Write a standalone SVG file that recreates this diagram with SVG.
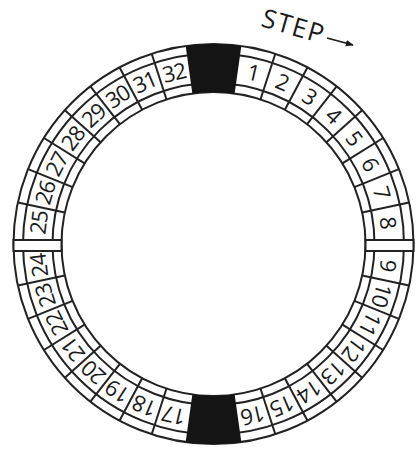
<svg xmlns="http://www.w3.org/2000/svg" width="418" height="449" viewBox="0 0 418 449">
<defs>
<style>
.ln{fill:none;stroke:#222;stroke-width:2}
.num{font-family:"Open Sans","Liberation Sans",sans-serif;font-size:22px;fill:#1a1a1a;text-anchor:middle;letter-spacing:-1px}
.lbl{font-family:"Open Sans","Liberation Sans",sans-serif;font-size:26px;fill:#1a1a1a;letter-spacing:1.5px}
.blk{fill:#141414}
.gap{fill:#fff;stroke:#222;stroke-width:2}
</style>
<line id="div" class="ln" x1="213.5" y1="44" x2="213.5" y2="92"/>
<marker id="ah" viewBox="0 0 10 10" refX="9" refY="5" markerWidth="5" markerHeight="5" orient="auto" markerUnits="strokeWidth">
<path d="M0,1 L10,5 L0,9 Z" fill="#1a1a1a"/>
</marker>
</defs>
<rect width="418" height="449" fill="#fff"/>
<g id="ring">
<circle class="ln" cx="213.5" cy="244" r="200"/>
<circle class="ln" cx="213.5" cy="244" r="190.5"/>
<circle class="ln" cx="213.5" cy="244" r="161"/>
<circle class="ln" cx="213.5" cy="244" r="152"/>
</g>
<g id="dividers">
<use href="#div" transform="rotate(18 213.5 244)"/>
<use href="#div" transform="rotate(28 213.5 244)"/>
<use href="#div" transform="rotate(38 213.5 244)"/>
<use href="#div" transform="rotate(48 213.5 244)"/>
<use href="#div" transform="rotate(58 213.5 244)"/>
<use href="#div" transform="rotate(68 213.5 244)"/>
<use href="#div" transform="rotate(78 213.5 244)"/>
<use href="#div" transform="rotate(102 213.5 244)"/>
<use href="#div" transform="rotate(112 213.5 244)"/>
<use href="#div" transform="rotate(122 213.5 244)"/>
<use href="#div" transform="rotate(132 213.5 244)"/>
<use href="#div" transform="rotate(142 213.5 244)"/>
<use href="#div" transform="rotate(152 213.5 244)"/>
<use href="#div" transform="rotate(162 213.5 244)"/>
<use href="#div" transform="rotate(198 213.5 244)"/>
<use href="#div" transform="rotate(208 213.5 244)"/>
<use href="#div" transform="rotate(218 213.5 244)"/>
<use href="#div" transform="rotate(228 213.5 244)"/>
<use href="#div" transform="rotate(238 213.5 244)"/>
<use href="#div" transform="rotate(248 213.5 244)"/>
<use href="#div" transform="rotate(258 213.5 244)"/>
<use href="#div" transform="rotate(282 213.5 244)"/>
<use href="#div" transform="rotate(292 213.5 244)"/>
<use href="#div" transform="rotate(302 213.5 244)"/>
<use href="#div" transform="rotate(312 213.5 244)"/>
<use href="#div" transform="rotate(322 213.5 244)"/>
<use href="#div" transform="rotate(332 213.5 244)"/>
<use href="#div" transform="rotate(342 213.5 244)"/>
</g>
<g id="blocks">
<path id="block-top" class="blk" d="M185.67,45.95 A200,200 0 0,1 241.33,45.95 L234.65,93.48 A152,152 0 0,0 192.35,93.48 Z"/>
<path id="block-bottom" class="blk" d="M185.67,45.95 A200,200 0 0,1 241.33,45.95 L234.65,93.48 A152,152 0 0,0 192.35,93.48 Z" transform="rotate(180 213.5 244)"/>
</g>
<g id="gaps">
<rect id="gap-left" class="gap" x="13.5" y="240" width="48" height="11"/>
<rect id="gap-right" class="gap" x="365.5" y="240" width="48" height="11"/>
</g>
<g id="cells">
<g id="cell-1"><text class="num" x="213.5" y="76" transform="rotate(13 213.5 244)">1</text></g>
<g id="cell-2"><text class="num" x="213.5" y="76" transform="rotate(23 213.5 244)">2</text></g>
<g id="cell-3"><text class="num" x="213.5" y="76" transform="rotate(33 213.5 244)">3</text></g>
<g id="cell-4"><text class="num" x="213.5" y="76" transform="rotate(43 213.5 244)">4</text></g>
<g id="cell-5"><text class="num" x="213.5" y="76" transform="rotate(53 213.5 244)">5</text></g>
<g id="cell-6"><text class="num" x="213.5" y="76" transform="rotate(63 213.5 244)">6</text></g>
<g id="cell-7"><text class="num" x="213.5" y="76" transform="rotate(73 213.5 244)">7</text></g>
<g id="cell-8"><text class="num" x="213.5" y="76" transform="rotate(83 213.5 244)">8</text></g>
<g id="cell-9"><text class="num" x="213.5" y="76" transform="rotate(97 213.5 244)">9</text></g>
<g id="cell-10"><text class="num" x="213.5" y="76" transform="rotate(107 213.5 244)">10</text></g>
<g id="cell-11"><text class="num" x="213.5" y="76" transform="rotate(117 213.5 244)">11</text></g>
<g id="cell-12"><text class="num" x="213.5" y="76" transform="rotate(127 213.5 244)">12</text></g>
<g id="cell-13"><text class="num" x="213.5" y="76" transform="rotate(137 213.5 244)">13</text></g>
<g id="cell-14"><text class="num" x="213.5" y="76" transform="rotate(147 213.5 244)">14</text></g>
<g id="cell-15"><text class="num" x="213.5" y="76" transform="rotate(157 213.5 244)">15</text></g>
<g id="cell-16"><text class="num" x="213.5" y="76" transform="rotate(167 213.5 244)">16</text></g>
<g id="cell-17"><text class="num" x="213.5" y="76" transform="rotate(193 213.5 244)">17</text></g>
<g id="cell-18"><text class="num" x="213.5" y="76" transform="rotate(203 213.5 244)">18</text></g>
<g id="cell-19"><text class="num" x="213.5" y="76" transform="rotate(213 213.5 244)">19</text></g>
<g id="cell-20"><text class="num" x="213.5" y="76" transform="rotate(223 213.5 244)">20</text></g>
<g id="cell-21"><text class="num" x="213.5" y="76" transform="rotate(233 213.5 244)">21</text></g>
<g id="cell-22"><text class="num" x="213.5" y="76" transform="rotate(243 213.5 244)">22</text></g>
<g id="cell-23"><text class="num" x="213.5" y="76" transform="rotate(253 213.5 244)">23</text></g>
<g id="cell-24"><text class="num" x="213.5" y="76" transform="rotate(263 213.5 244)">24</text></g>
<g id="cell-25"><text class="num" x="213.5" y="76" transform="rotate(277 213.5 244)">25</text></g>
<g id="cell-26"><text class="num" x="213.5" y="76" transform="rotate(287 213.5 244)">26</text></g>
<g id="cell-27"><text class="num" x="213.5" y="76" transform="rotate(297 213.5 244)">27</text></g>
<g id="cell-28"><text class="num" x="213.5" y="76" transform="rotate(307 213.5 244)">28</text></g>
<g id="cell-29"><text class="num" x="213.5" y="76" transform="rotate(317 213.5 244)">29</text></g>
<g id="cell-30"><text class="num" x="213.5" y="76" transform="rotate(327 213.5 244)">30</text></g>
<g id="cell-31"><text class="num" x="213.5" y="76" transform="rotate(337 213.5 244)">31</text></g>
<g id="cell-32"><text class="num" x="213.5" y="76" transform="rotate(347 213.5 244)">32</text></g>
</g>
<g id="step-label">
<text class="lbl" x="0" y="0" transform="translate(260 26) rotate(16)">STEP</text>
</g>
<g id="connectors">
<line x1="327" y1="38" x2="353" y2="45" stroke="#1a1a1a" stroke-width="1.6" marker-end="url(#ah)"/>
</g>
</svg>
